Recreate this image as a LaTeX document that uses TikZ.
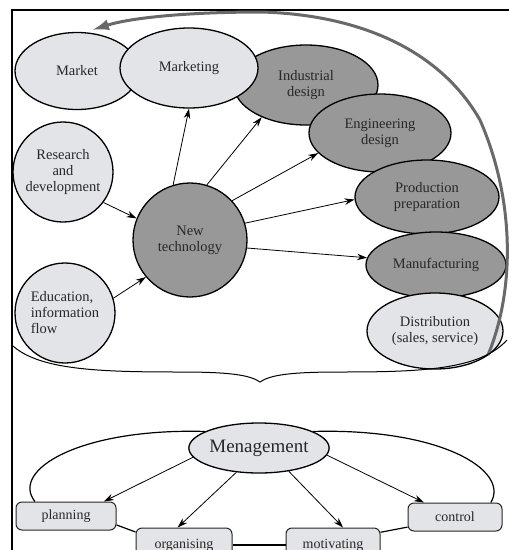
\documentclass[tikz,border=0pt]{standalone}
\usepackage{fontspec}
\setmainfont{Liberation Serif}
\usetikzlibrary{arrows.meta,shapes.geometric}
\definecolor{mgtlight}{RGB}{226,228,231}
\definecolor{mgtdark}{RGB}{152,152,152}
\definecolor{mgttext}{RGB}{40,40,40}
\definecolor{mgtarc}{RGB}{105,105,105}
\tikzset{
  lightell/.style={ellipse, draw=black, line width=1.3pt, fill=mgtlight, align=center,
    inner sep=0pt, text=mgttext, font=\fontsize{14.5}{16}\selectfont},
  darkell/.style={lightell, fill=mgtdark},
  lightcirc/.style={lightell, circle},
  darkcirc/.style={darkell, circle},
  task/.style={draw=black!85, line width=1pt, rounded corners=6pt, fill=mgtlight,
    minimum height=28pt, align=center, text=mgttext, font=\fontsize{14}{16}\selectfont},
  flow/.style={-{Stealth[length=10pt,width=6.5pt]}, line width=0.8pt},
  link/.style={line width=1.2pt},
  loopflow/.style={-{Latex[length=17pt,width=11pt]}, line width=3pt, draw=mgtarc}
}

\begin{document}
\begin{tikzpicture}[x=1pt, y=-1pt]
      \useasboundingbox (0,0) rectangle (509,550);
      % frame
      \draw[line width=2pt] (509,10) -- (12,10) -- (12,551);
      % product chain
      \node[darkell, minimum width=144pt, minimum height=80pt] (inddes) at (306,85) {Industrial\\design};
      \node[lightell, minimum width=124pt, minimum height=77pt] (market) at (77,71) {Market};
      \node[lightell, minimum width=138pt, minimum height=80pt] (marketing) at (189,68) {Marketing};
      \node[darkell, minimum width=142pt, minimum height=78pt] (engdes) at (380,133) {Engineering\\design};
      \node[darkell, minimum width=144pt, minimum height=74pt] (prodprep) at (427,197) {Production\\preparation};
      \node[darkell, minimum width=140pt, minimum height=66pt] (manuf) at (436,265) {Manufacturing};
      \node[lightell, minimum width=136pt, minimum height=76pt] (distr) at (435,331) {Distribution\\(sales, service)};
      \node[lightcirc, minimum size=100pt] (research) at (63,172) {Research\\and\\development};
      \node[lightcirc, minimum size=100pt, align=left] (educ) at (65,313) {Education,\\information\\flow};
      \node[darkcirc, minimum size=114pt] (newtech) at (190,240) {New\\technology};
      \draw[flow] (research.-37) -- (newtech.158);
      \draw[flow] (educ.17) -- (newtech.-140);
      \draw[flow] (newtech.107) -- (marketing.-90);
      \draw[flow] (newtech.73) -- (inddes.-144);
      \draw[flow] (newtech.43) -- (engdes.-162);
      \draw[flow] (newtech.17) -- (prodprep.182);
      \draw[flow] (newtech.-8) -- (manuf.174);
      % feedback to the market
      \coordinate (loopstart) at (488,355);
      \coordinate (loopside) at (480,120);
      \coordinate (looptop) at (262,12);
      \coordinate (loopend) at (92,30);
      \draw[loopflow] (loopstart) .. controls (515,290) and (515,200) .. (loopside)
        .. controls (440,50) and (360,15) .. (looptop)
        .. controls (185,12) and (130,18) .. (loopend);
      % brace
      \draw[line width=1pt] (13,346) .. controls (40,370) and (100,372) .. (180,372)
        .. controls (230,372) and (250,375) .. (260,382)
        .. controls (270,375) and (290,372) .. (340,372)
        .. controls (420,372) and (480,370) .. (507,340);
      % management
      \node[lightell, minimum width=138pt, minimum height=50pt, font=\fontsize{19}{21}\selectfont] (mgmt) at (259,448) {Menagement};
      \node[task, minimum width=100pt] (planning) at (66,516) {planning};
      \node[task, minimum width=96pt, minimum height=34pt] (organising) at (184,545) {organising};
      \node[task, minimum width=94pt, minimum height=34pt] (motivating) at (333,545) {motivating};
      \node[task, minimum width=94pt] (control) at (455,517) {control};
      \draw[link] (mgmt.163) .. controls (80,428) and (10,470) .. (planning.155);
      \draw[link] (mgmt.17) .. controls (440,428) and (510,470) .. (control.22);
      \draw[link] (planning.-10) -- (organising.165);
      \draw[link] (organising.east) -- (motivating.west);
      \draw[link] (motivating.15) -- (control.-168);
      \draw[flow] (mgmt.188) -- (planning.21);
      \draw[flow] (mgmt.-133) -- (organising.110);
      \draw[flow] (mgmt.-38) -- (motivating.60);
      \draw[flow] (mgmt.-6) -- (control.155);
    \end{tikzpicture}
\end{document}
